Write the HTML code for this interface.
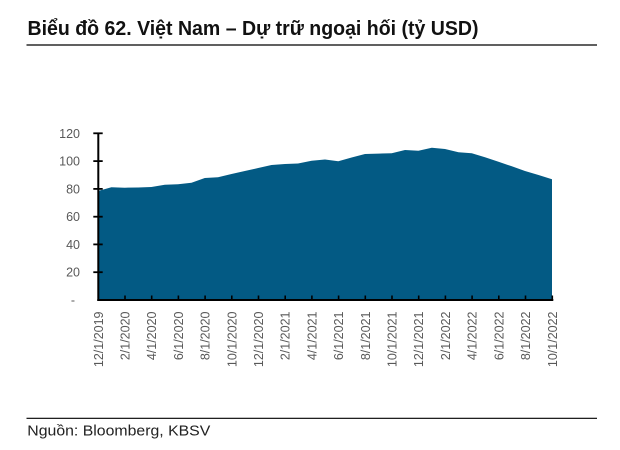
<!DOCTYPE html>
<html>
<head>
<meta charset="utf-8">
<style>
  html,body{margin:0;padding:0;background:#fff;}
  svg{display:block;}
  text{font-family:"Liberation Sans","DejaVu Sans",sans-serif;}
</style>
</head>
<body>
<svg width="620" height="450" viewBox="0 0 620 450" xmlns="http://www.w3.org/2000/svg">
  <rect width="620" height="450" fill="#fff"/>
  <!-- Title -->
  <text x="27.5" y="35" font-size="20" font-weight="bold" fill="#111" textLength="451" lengthAdjust="spacingAndGlyphs">Biểu đồ 62. Việt Nam – Dự trữ ngoại hối (tỷ USD)</text>
  <line x1="26.5" y1="45" x2="597" y2="45" stroke="#000" stroke-width="1.2"/>

  <!-- Area -->
  <polygon fill="#035a84" points="98,191 111.4,187.3 124.7,187.7 138,187.5 151.4,187 164.8,184.7 178,184.3 191.5,182.7 204.8,178 218,177.3 231.5,174 244.8,171 258.2,168 271.5,165 285,164 298,163.5 311.6,160.7 325,159.5 338.3,161.3 351.6,157.5 365,154 378.4,153.6 391.7,153.2 405,150 418.4,150.7 431.8,147.7 445,149 458.5,152.2 471.8,153.2 485,157.2 498.5,161.7 511.8,166.3 525,171 538.5,175 552,179.3 552,300 98,300"/>

  <!-- Y axis -->
  <line x1="98.3" y1="133" x2="98.3" y2="301" stroke="#000" stroke-width="2"/>
  <g stroke="#000" stroke-width="1.8">
    <line x1="93.3" y1="133.3" x2="102.7" y2="133.3"/>
    <line x1="93.3" y1="161.1" x2="102.7" y2="161.1"/>
    <line x1="93.3" y1="188.9" x2="102.7" y2="188.9"/>
    <line x1="93.3" y1="216.7" x2="102.7" y2="216.7"/>
    <line x1="93.3" y1="244.4" x2="102.7" y2="244.4"/>
    <line x1="93.3" y1="272.2" x2="102.7" y2="272.2"/>
  </g>
  <g font-size="12.5" fill="#595959" text-anchor="end">
    <text x="80" y="137.8">120</text>
    <text x="80" y="165.6">100</text>
    <text x="80" y="193.4">80</text>
    <text x="80" y="221.2">60</text>
    <text x="80" y="248.9">40</text>
    <text x="80" y="276.7">20</text>
    <text x="75" y="304.5">-</text>
  </g>

  <!-- X axis -->
  <line x1="97.3" y1="300" x2="553.3" y2="300" stroke="#000" stroke-width="2"/>
  <g stroke="#000" stroke-width="1.6">
    <line x1="125" y1="295.5" x2="125" y2="300"/>
    <line x1="151.7" y1="295.5" x2="151.7" y2="300"/>
    <line x1="178.4" y1="295.5" x2="178.4" y2="300"/>
    <line x1="205.1" y1="295.5" x2="205.1" y2="300"/>
    <line x1="231.8" y1="295.5" x2="231.8" y2="300"/>
    <line x1="258.5" y1="295.5" x2="258.5" y2="300"/>
    <line x1="285.2" y1="295.5" x2="285.2" y2="300"/>
    <line x1="311.9" y1="295.5" x2="311.9" y2="300"/>
    <line x1="338.6" y1="295.5" x2="338.6" y2="300"/>
    <line x1="365.3" y1="295.5" x2="365.3" y2="300"/>
    <line x1="392" y1="295.5" x2="392" y2="300"/>
    <line x1="418.7" y1="295.5" x2="418.7" y2="300"/>
    <line x1="445.4" y1="295.5" x2="445.4" y2="300"/>
    <line x1="472.1" y1="295.5" x2="472.1" y2="300"/>
    <line x1="498.8" y1="295.5" x2="498.8" y2="300"/>
    <line x1="525.5" y1="295.5" x2="525.5" y2="300"/>
    <line x1="552.3" y1="295.5" x2="552.3" y2="300"/>
  </g>
  <g font-size="12.5" fill="#595959" text-anchor="end">
    <text transform="translate(98.3,311.5) rotate(-90)" y="4.5">12/1/2019</text>
    <text transform="translate(125,311.5) rotate(-90)" y="4.5">2/1/2020</text>
    <text transform="translate(151.7,311.5) rotate(-90)" y="4.5">4/1/2020</text>
    <text transform="translate(178.4,311.5) rotate(-90)" y="4.5">6/1/2020</text>
    <text transform="translate(205.1,311.5) rotate(-90)" y="4.5">8/1/2020</text>
    <text transform="translate(231.8,311.5) rotate(-90)" y="4.5">10/1/2020</text>
    <text transform="translate(258.5,311.5) rotate(-90)" y="4.5">12/1/2020</text>
    <text transform="translate(285.2,311.5) rotate(-90)" y="4.5">2/1/2021</text>
    <text transform="translate(311.9,311.5) rotate(-90)" y="4.5">4/1/2021</text>
    <text transform="translate(338.6,311.5) rotate(-90)" y="4.5">6/1/2021</text>
    <text transform="translate(365.3,311.5) rotate(-90)" y="4.5">8/1/2021</text>
    <text transform="translate(392,311.5) rotate(-90)" y="4.5">10/1/2021</text>
    <text transform="translate(418.7,311.5) rotate(-90)" y="4.5">12/1/2021</text>
    <text transform="translate(445.4,311.5) rotate(-90)" y="4.5">2/1/2022</text>
    <text transform="translate(472.1,311.5) rotate(-90)" y="4.5">4/1/2022</text>
    <text transform="translate(498.8,311.5) rotate(-90)" y="4.5">6/1/2022</text>
    <text transform="translate(525.5,311.5) rotate(-90)" y="4.5">8/1/2022</text>
    <text transform="translate(552.3,311.5) rotate(-90)" y="4.5">10/1/2022</text>
  </g>

  <!-- Footer -->
  <line x1="26.5" y1="418.3" x2="597" y2="418.3" stroke="#000" stroke-width="1.2"/>
  <text x="27.3" y="435.7" font-size="14.5" fill="#222" textLength="183" lengthAdjust="spacingAndGlyphs">Nguồn: Bloomberg, KBSV</text>
</svg>
</body>
</html>
